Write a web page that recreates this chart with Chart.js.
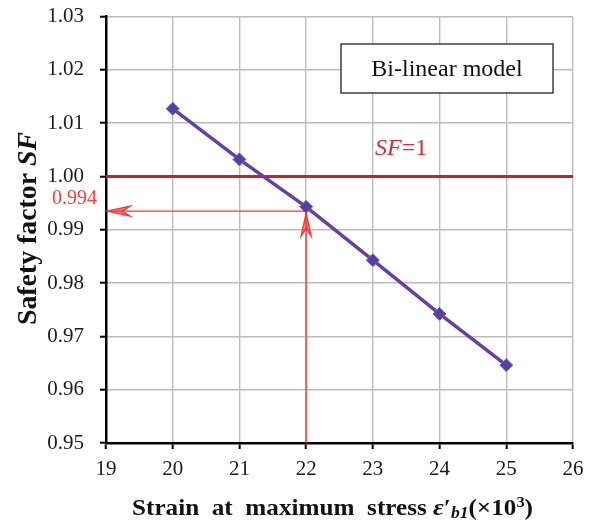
<!DOCTYPE html>
<html>
<head>
<meta charset="utf-8">
<script src="https://cdn.jsdelivr.net/npm/chart.js@4.4.1/dist/chart.umd.min.js"></script>
<style>
html,body{margin:0;padding:0;background:#fff;}
#wrap{width:593px;height:521px;}
</style>
</head>
<body>
<div id="wrap"><canvas id="c" width="593" height="521"></canvas></div>
<script>
// ---- data ----
const strain = [20, 21, 22, 23, 24, 25];
const safetyFactor = [1.0127, 1.0032, 0.9943, 0.9843, 0.9742, 0.9646];
const xTickValues = [19, 20, 21, 22, 23, 24, 25, 26];
const yTickValues = [0.95, 0.96, 0.97, 0.98, 0.99, 1.00, 1.01, 1.02, 1.03];
const sfLimit = [1, 1];
const readStrain = [22, 22];
const readSF = [0.9935, 0.9935];
const readLabel = "0.994";
const boxLabel = "Bi-linear model";

const SERIF = '"Liberation Serif", "Times New Roman", serif';
const xMin = xTickValues[0], xMax = xTickValues[xTickValues.length - 1];
const yMin = yTickValues[0], yMax = yTickValues[yTickValues.length - 1];

const seriesPts = strain.map((x, i) => ({x, y: safetyFactor[i]}));
const sfLinePts = [{x: xMin, y: sfLimit[0]}, {x: xMax, y: sfLimit[1]}];
const hArrowPts = [{x: readStrain[0], y: readSF[0]}, {x: xMin, y: readSF[1]}];
const vArrowPts = [{x: readStrain[0], y: yMin}, {x: readStrain[1], y: readSF[0]}];

function drawSegments(ctx, segs, targetWidth) {
  let total = 0;
  segs.forEach(s => { ctx.font = s.font; s.w = ctx.measureText(s.text).width; total += s.w; });
  const sx = targetWidth / total;
  ctx.save();
  ctx.scale(sx, 1);
  let x = -total / 2;
  segs.forEach(s => {
    ctx.font = s.font;
    ctx.fillText(s.text, x, s.dy || 0);
    x += s.w;
  });
  ctx.restore();
}

const decor = {
  id: 'decor',
  afterDatasetsDraw(chart) {
    const ctx = chart.ctx;
    const xs = chart.scales.x, ys = chart.scales.y;
    const red = '#ff3030';
    function head(tx, ty, ang) {
      ctx.save();
      ctx.translate(tx, ty);
      ctx.rotate(ang);
      ctx.beginPath();
      ctx.moveTo(0, 0);
      ctx.lineTo(23, -5);
      ctx.lineTo(15, 0);
      ctx.lineTo(23, 5);
      ctx.closePath();
      ctx.fillStyle = 'rgba(255,70,70,0.7)';
      ctx.fill();
      ctx.strokeStyle = red;
      ctx.lineWidth = 1.3;
      ctx.stroke();
      ctx.restore();
    }
    const ay = ys.getPixelForValue(readSF[0]);
    head(xs.getPixelForValue(xMin) + 1, ay, 0);
    head(xs.getPixelForValue(readStrain[0]), ay + 2, Math.PI / 2);
  },
  afterDraw(chart) {
    const ctx = chart.ctx;
    const a = chart.chartArea;
    const ys = chart.scales.y;
    ctx.save();
    // text box
    const bx = a.left + 235, by = a.top + 27.5, bw = 212, bh = 49;
    ctx.fillStyle = '#fff';
    ctx.fillRect(bx, by, bw, bh);
    ctx.strokeStyle = '#333';
    ctx.lineWidth = 1.4;
    ctx.strokeRect(bx, by, bw, bh);
    ctx.fillStyle = '#111';
    ctx.font = '24px ' + SERIF;
    ctx.textAlign = 'center';
    ctx.textBaseline = 'middle';
    ctx.fillText(boxLabel, bx + bw / 2, by + bh / 2 + 1);
    // SF=1 label
    ctx.textAlign = 'left';
    ctx.textBaseline = 'alphabetic';
    ctx.fillStyle = '#d42a35';
    ctx.font = 'italic 24px ' + SERIF;
    const lx = a.left + 269, ly = ys.getPixelForValue(sfLimit[0]) - 21;
    ctx.fillText('SF', lx, ly);
    const w1 = ctx.measureText('SF').width;
    ctx.font = '24px ' + SERIF;
    ctx.fillText('=1', lx + w1, ly);
    // 0.994 label
    ctx.fillStyle = '#ff3b3b';
    ctx.font = '20px ' + SERIF;
    ctx.textAlign = 'right';
    ctx.fillText(readLabel, a.left - 9, ys.getPixelForValue(readSF[0]) - 7);
    // axis titles
    ctx.fillStyle = '#111';
    ctx.textAlign = 'left';
    ctx.save();
    ctx.translate((a.left + a.right) / 2 - 7, 515);
    drawSegments(ctx, [
      {text: 'Strain  at  maximum  stress ', font: 'bold 23px ' + SERIF},
      {text: 'ε', font: 'bold italic 24px ' + SERIF},
      {text: '′', font: 'bold 23px ' + SERIF},
      {text: 'b1', font: 'bold italic 16px ' + SERIF, dy: 3},
      {text: '(×10', font: 'bold 23px ' + SERIF},
      {text: '3', font: 'bold 15px ' + SERIF, dy: -8},
      {text: ')', font: 'bold 23px ' + SERIF}
    ], 401);
    ctx.restore();
    ctx.save();
    ctx.translate(36, 228.5);
    ctx.rotate(-Math.PI / 2);
    drawSegments(ctx, [
      {text: 'Safety factor ', font: 'bold 27px ' + SERIF},
      {text: 'SF', font: 'bold italic 27px ' + SERIF}
    ], 193);
    ctx.restore();
    ctx.restore();
  }
};

new Chart(document.getElementById('c'), {
  type: 'scatter',
  data: {
    datasets: [
      {
        label: 'Bi-linear model',
        data: seriesPts,
        showLine: true,
        borderColor: '#6a3fa3',
        borderWidth: 3.5,
        pointStyle: 'rectRot',
        pointRadius: 6.5,
        pointBackgroundColor: '#5b3d9f',
        pointBorderColor: '#5a6fcf',
        pointBorderWidth: 1,
        order: 0
      },
      {
        label: 'SF=1',
        data: sfLinePts,
        showLine: true,
        borderColor: '#c4232c',
        borderWidth: 3,
        pointRadius: 0,
        order: 2
      },
      {
        label: 'h',
        data: hArrowPts,
        showLine: true,
        borderColor: '#ff3030',
        borderWidth: 1.3,
        pointRadius: 0,
        order: 1
      },
      {
        label: 'v',
        data: vArrowPts,
        showLine: true,
        borderColor: '#ff3030',
        borderWidth: 1.3,
        pointRadius: 0,
        order: 1
      }
    ]
  },
  options: {
    responsive: false,
    animation: false,
    devicePixelRatio: 1,
    layout: {padding: {left: 0, right: 20, top: 16.5, bottom: 0}},
    plugins: {legend: {display: false}, tooltip: {enabled: false}, title: {display: false}},
    scales: {
      x: {
        type: 'linear',
        min: xMin, max: xMax,
        afterBuildTicks: s => { s.ticks = xTickValues.map(v => ({value: v})); },
        afterFit: s => { s.height = 78; s.paddingLeft = 0; s.paddingRight = 0; },
        ticks: {color: '#1a1a1a', font: {family: SERIF, size: 21}, padding: 8, maxRotation: 0,
                callback: v => String(v)},
        grid: {color: '#bcbcbc', lineWidth: 1.4, tickColor: '#000', tickLength: 6, tickWidth: 2},
        border: {color: '#000', width: 2.5}
      },
      y: {
        type: 'linear',
        min: yMin, max: yMax,
        afterBuildTicks: s => { s.ticks = yTickValues.map(v => ({value: v})); },
        afterFit: s => { s.width = 106; s.paddingTop = 0; s.paddingBottom = 0; },
        ticks: {color: '#1a1a1a', font: {family: SERIF, size: 21}, padding: 16,
                callback: v => Number(v).toFixed(2)},
        grid: {color: '#bcbcbc', lineWidth: 1.4, tickColor: '#000', tickLength: 6, tickWidth: 2},
        border: {color: '#000', width: 2.5}
      }
    }
  },
  plugins: [decor]
});
</script>
</body>
</html>
